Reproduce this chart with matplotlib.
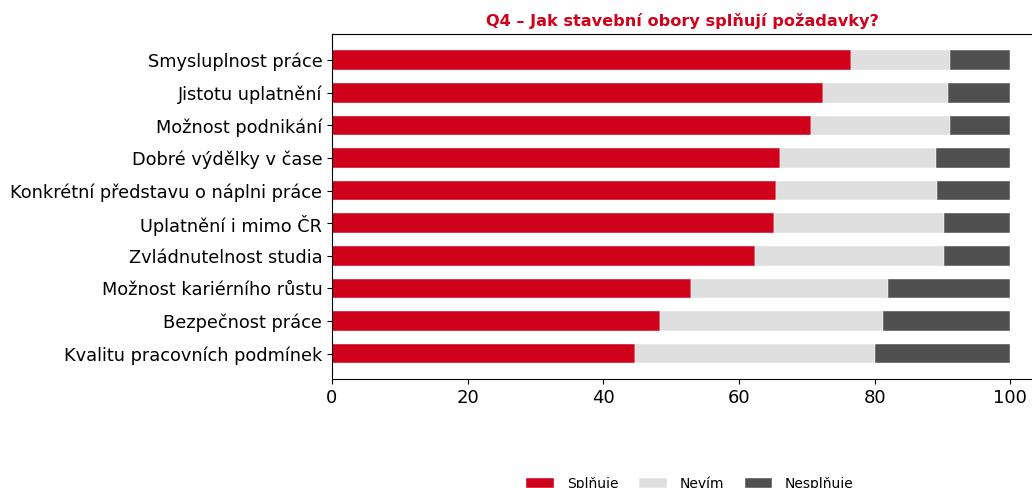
import matplotlib
matplotlib.use("Agg")
import matplotlib.pyplot as plt
import numpy as np

# categories top to bottom
categories = [
    "Smysluplnost práce",
    "Jistotu uplatnění",
    "Možnost podnikání",
    "Dobré výdělky v čase",
    "Konkrétní představu o náplni práce",
    "Uplatnění i mimo ČR",
    "Zvládnutelnost studia",
    "Možnost kariérního růstu",
    "Bezpečnost práce",
    "Kvalitu pracovních podmínek",
]
splnuje = [76.5, 72.4, 70.6, 66.0, 65.4, 65.2, 62.4, 53.0, 48.4, 44.7]
nevim = [14.6, 18.4, 20.5, 23.1, 23.8, 25.0, 27.8, 28.9, 32.8, 35.4]
nesplnuje = [8.9, 9.2, 8.9, 10.9, 10.8, 9.8, 9.8, 18.1, 18.8, 19.9]

series_names = ["Splňuje", "Nevím", "Nesplňuje"]
colors = ["#D0021B", "#DFDFDF", "#505050"]

fig = plt.figure(figsize=(10.32, 4.88), dpi=100)
ax = fig.add_axes([0.3217, 0.2234, 0.6783, 0.7066])

y = np.arange(len(categories))
left = np.zeros(len(categories))
for name, vals, col in zip(series_names, [splnuje, nevim, nesplnuje], colors):
    ax.barh(y, vals, left=left, height=0.6, color=col, label=name,
            edgecolor="white", linewidth=0.3)
    left += np.array(vals)

ax.set_yticks(y)
ax.set_yticklabels(categories, fontsize=12.8)
ax.set_ylim(len(categories) - 0.22, -0.8)
ax.set_xlim(0, 103.2)
ax.set_xticks([0, 20, 40, 60, 80, 100])
ax.tick_params(axis="x", labelsize=13)
ax.spines["right"].set_visible(False)

ax.set_title("Q4 – Jak stavební obory splňují požadavky?", color="#D0021B",
             fontweight="bold", fontsize=11.6, pad=6)

fig.legend(loc="center", bbox_to_anchor=(690 / 1032, 1 - 484 / 488), ncol=3,
           frameon=False, fontsize=10, handlelength=2.0, handletextpad=0.9,
           columnspacing=1.5)

fig.savefig("out.png", dpi=100)
